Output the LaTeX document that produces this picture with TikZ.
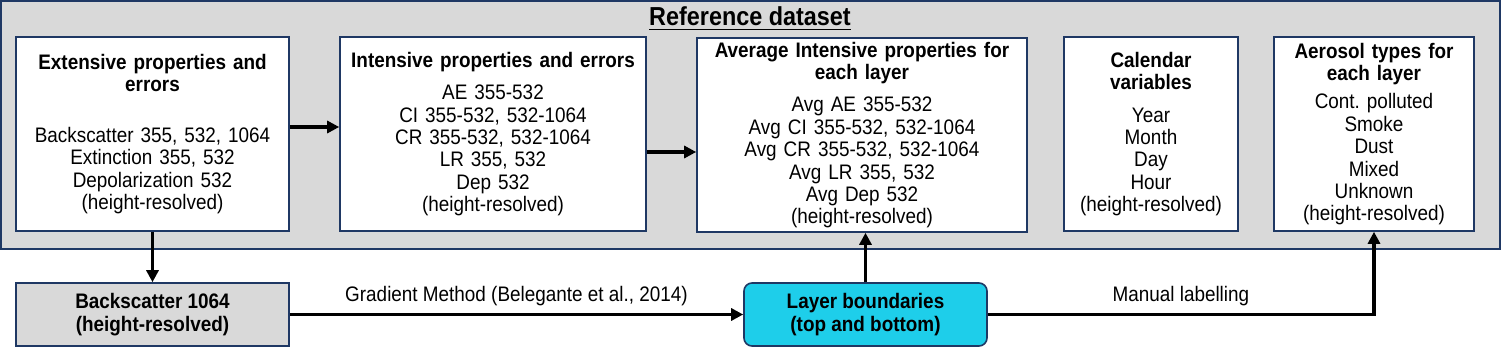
\documentclass[tikz,border=0pt]{standalone}
\usepackage{fontspec}
\setmainfont{Liberation Sans}[FakeStretch=0.9]
\usepackage{xcolor}
\usetikzlibrary{
  arrows.meta,
  positioning
}
\definecolor{navyline}{RGB}{31,56,100}
\definecolor{panelgray}{RGB}{217,217,217}
\definecolor{layercyan}{RGB}{30,206,234}
\frenchspacing

\begin{document}
\begin{tikzpicture}[x=0.5pt, y=0.5pt, font=\fontsize{10.5}{11.2}\selectfont,
  databox/.style={draw=navyline, line width=0.8pt, fill=white, align=center,
    inner sep=0pt, minimum height=97pt},
  inputbox/.style={draw=navyline, line width=0.8pt, align=center, inner sep=0pt,
    minimum height=31.5pt, font=\fontsize{10.5}{11.2}\selectfont\bfseries},
  flow/.style={line width=1.6pt, -{Triangle[length=6pt, width=6pt]}}]
  \useasboundingbox (0,0) rectangle (1501,349);
  % reference dataset panel
  \node[draw=navyline, line width=1pt, fill=panelgray, inner sep=0pt,
    minimum width=749.5pt, minimum height=124pt] (panel) at (750.5,224) {};
  \node[anchor=base, font=\fontsize{13}{15}\selectfont\bfseries] (title) at (750,323) {\underline{Reference dataset}};
  \node[databox, text width=136.5pt] (extprop) at (152.5,215) {%
    \textbf{Extensive properties and}\\\textbf{errors}\\[14pt]
    Backscatter 355, 532, 1064\\Extinction 355, 532\\Depolarization 532\\(height-resolved)};
  \node[databox, text width=153pt] (intprop) at (493,215) {%
    \textbf{Intensive properties and errors}\\[5pt]
    AE 355-532\\CI 355-532, 532-1064\\CR 355-532, 532-1064\\LR 355, 532\\Dep 532\\(height-resolved)};
  \node[databox, text width=165pt] (avgprop) at (862,214) {%
    \textbf{Average Intensive properties for}\\\textbf{each layer}\\[5pt]
    Avg AE 355-532\\Avg CI 355-532, 532-1064\\Avg CR 355-532, 532-1064\\Avg LR 355, 532\\Avg Dep 532\\(height-resolved)};
  \node[databox, text width=87pt] (calvars) at (1151,215) {%
    \textbf{Calendar}\\\textbf{variables}\\[5pt]
    Year\\Month\\Day\\Hour\\(height-resolved)};
  \node[databox, text width=100pt] (aertypes) at (1374,215) {%
    \textbf{Aerosol types for}\\\textbf{each layer}\\[3pt]
    Cont. polluted\\Smoke\\Dust\\Mixed\\Unknown\\(height-resolved)};
  % inputs below the panel
  \node[inputbox, fill=panelgray, minimum width=136.5pt] (backsc) at (152.5,34.5) {Backscatter 1064\\(height-resolved)};
  \node[inputbox, fill=layercyan, rounded corners=4pt, minimum width=121.5pt] (layerbd) at (865.5,34.5) {Layer boundaries\\(top and bottom)};
  % connectors
  \draw[flow] (extprop.south) -- (backsc.north);
  \draw[flow] ([yshift=3.5pt]extprop.east) -- ([yshift=3.5pt]extprop.east -| intprop.west);
  \draw[flow] ([yshift=-9pt]intprop.east) -- ([yshift=-9pt]intprop.east -| avgprop.west);
  \draw[flow] (backsc.east) -- node[above] {Gradient Method (Belegante et al., 2014)} (layerbd.west);
  \draw[flow] (layerbd.north) -- (layerbd.north |- avgprop.south);
  \draw[flow] (layerbd.east) -| node[pos=0.25, above] {Manual labelling} (aertypes.south);
\end{tikzpicture}
\end{document}
